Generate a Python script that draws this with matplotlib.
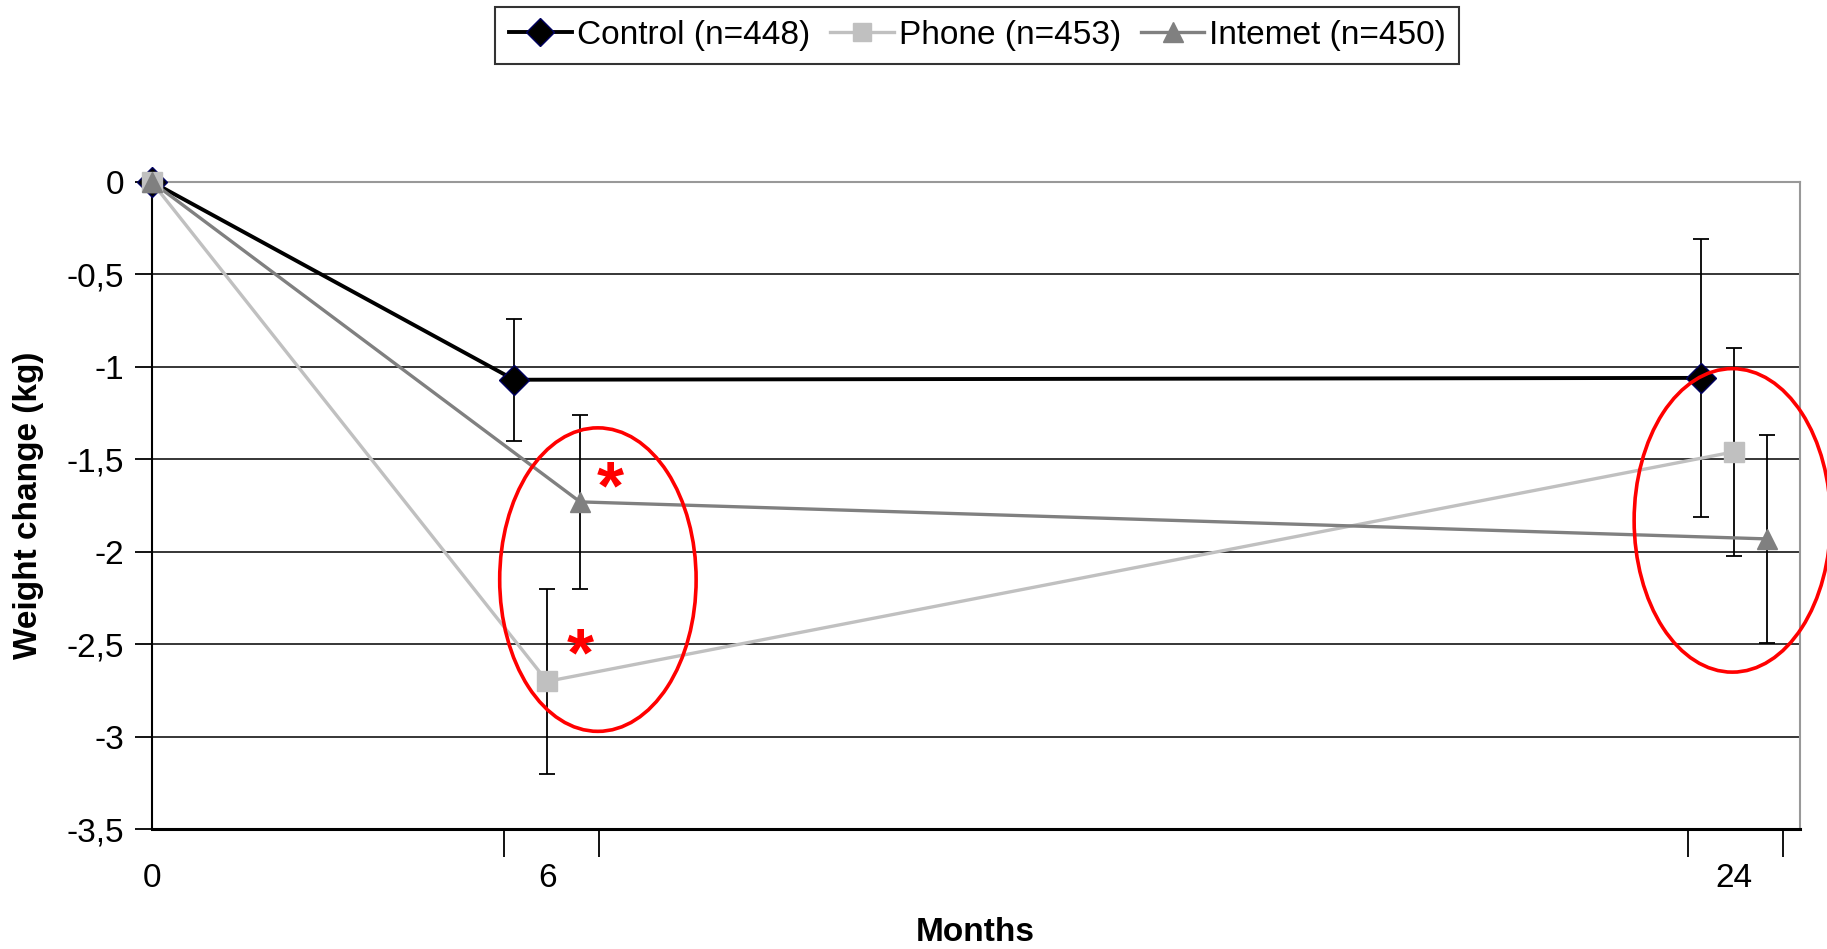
import matplotlib
matplotlib.use("Agg")
import matplotlib.pyplot as plt
from matplotlib.patches import Ellipse
from matplotlib.lines import Line2D

plt.rcParams["font.family"] = ["Liberation Sans", "DejaVu Sans"]

# ---------------------------------------------------------------------------
# Data: mean weight change (kg) with error bars, groups offset around each visit
# ---------------------------------------------------------------------------
control_x = [0, 5.5, 23.5]
control_y = [0, -1.07, -1.06]
control_err = [0, 0.33, 0.75]

phone_x = [0, 6, 24]
phone_y = [0, -2.70, -1.46]
phone_err = [0, 0.50, 0.56]

internet_x = [0, 6.5, 24.5]
internet_y = [0, -1.73, -1.93]
internet_err = [0, 0.47, 0.56]

month_labels = ["0", "6", "24"]
month_pos = [0, 6, 24]
divider_ticks = [0, 5.35, 6.78, 23.3, 24.75]

y_ticks = [0, -0.5, -1, -1.5, -2, -2.5, -3, -3.5]
y_tick_labels = ["0", "-0,5", "-1", "-1,5", "-2", "-2,5", "-3", "-3,5"]

# significance marks and highlight regions (months, kg)
star_x = [6.96, 6.5]
star_y = [-1.59, -2.49]
ellipse_centers = [(6.77, -2.15), (23.98, -1.83)]

FS = 24

fig = plt.figure(figsize=(18.27, 9.49), dpi=100)
ax = fig.add_axes([0.083, 0.126, 0.902, 0.6825])
ax.set_xlim(0, 25)
ax.set_ylim(-3.5, 0)

# horizontal grid lines
for yv in y_ticks[1:-1]:
    ax.axhline(yv, color="black", lw=1.1, zorder=1)

series = [
    ("Control (n=448)", control_x, control_y, control_err, "black", "D", 15, "#000060", 2.8),
    ("Phone (n=453)", phone_x, phone_y, phone_err, "#c0c0c0", "s", 14, "#c0c0c0", 2.4),
    ("Internet (n=450)", internet_x, internet_y, internet_err, "#808080", "^", 15, "#808080", 2.4),
]

handles = []
for label, xs, ys, errs, col, mk, ms, mec, lw in series:
    ax.errorbar(xs[1:], ys[1:], yerr=errs[1:], fmt="none", ecolor="black",
                elinewidth=1.3, capsize=6, capthick=1.3, zorder=3)
    ax.plot(xs, ys, color=col, lw=lw, zorder=4)
    ax.plot(xs, ys, linestyle="none", marker=mk, ms=ms, mfc=col, mec=mec,
            mew=1, zorder=5, clip_on=False)
    handles.append(Line2D([], [], color=col, lw=lw, marker=mk, ms=ms * 0.95,
                          mfc=col, mec=mec, label=label.replace("Internet", "Intemet")))

for cx, cy in ellipse_centers:
    ax.add_patch(Ellipse((cx, cy), width=2.98, height=1.64, fill=False,
                         edgecolor="red", lw=2.6, zorder=6, clip_on=False))
for sx, sy in zip(star_x, star_y):
    # the asterisk glyph sits high in its box, so anchor it a bit lower
    ax.text(sx, sy - 0.08, "*", color="red", fontsize=50, fontweight="bold",
            ha="center", va="center", zorder=7)

# axes styling
for side in ["top", "right"]:
    ax.spines[side].set_color("#999999")
    ax.spines[side].set_linewidth(1.5)
ax.spines["left"].set_color("black")
ax.spines["left"].set_linewidth(1.5)
ax.spines["bottom"].set_color("black")
ax.spines["bottom"].set_linewidth(2.2)

ax.set_yticks(y_ticks)
ax.set_yticklabels(y_tick_labels, fontsize=FS)
ax.tick_params(axis="y", length=12, width=1.3, pad=8)

ax.set_xticks(month_pos)
ax.set_xticklabels(month_labels, fontsize=FS)
ax.tick_params(axis="x", which="major", length=0, pad=24)
ax.set_xticks(divider_ticks, minor=True)
ax.tick_params(axis="x", which="minor", length=20, width=1.3)

ax.set_ylabel("Weight change (kg)", fontsize=FS, fontweight="bold", labelpad=16)
ax.set_xlabel("Months", fontsize=FS, fontweight="bold", labelpad=17)

leg = fig.legend(handles=handles, loc="upper center", bbox_to_anchor=(0.535, 0.993),
                 ncol=3, fontsize=FS, frameon=True, fancybox=False,
                 edgecolor="black", handlelength=1.9, handletextpad=0.15,
                 columnspacing=0.6, borderpad=0.4, borderaxespad=0)
leg.get_frame().set_linewidth(1.5)

fig.savefig("out.png", dpi=100, facecolor="white")
